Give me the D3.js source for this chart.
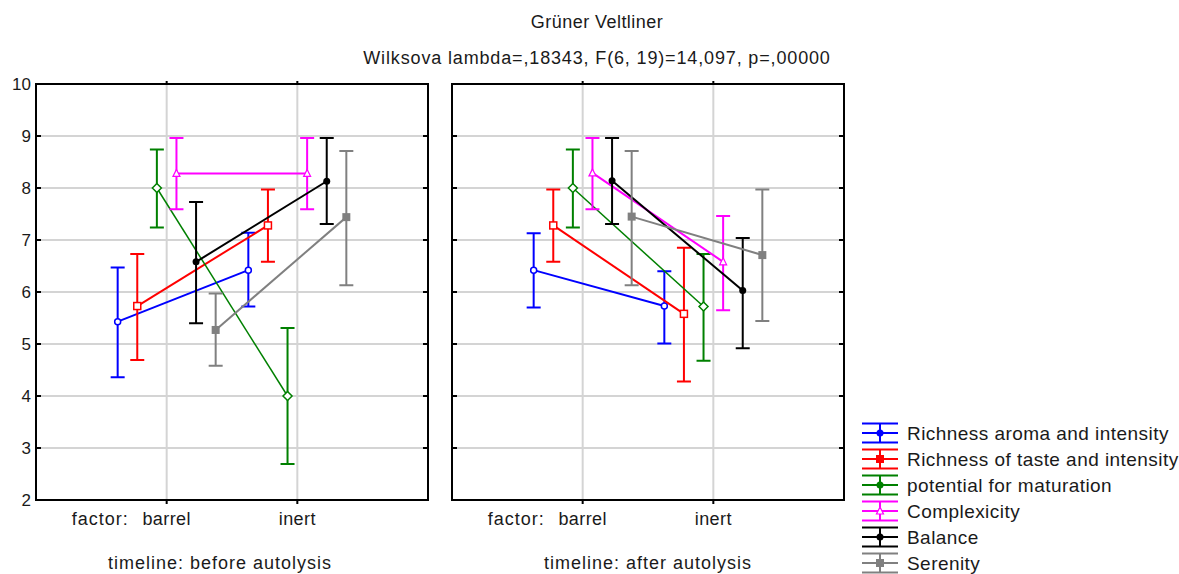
<!DOCTYPE html>
<html>
<head>
<meta charset="utf-8">
<script src="https://cdn.jsdelivr.net/npm/d3@7"></script>
<style>
  body { margin: 0; background: #fff; }
  svg { font-family: Arial, "Liberation Sans", sans-serif; }
</style>
</head>
<body>
<svg id="chart" width="1179" height="574"></svg>
<script>
const width = 1179;
const height = 574;

const categories = ["barrel", "inert"];
const timelines = ["before autolysis", "after autolysis"];
const seriesNames = [
    "Richness aroma and intensity",
    "Richness of taste and intensity",
    "potential for maturation",
    "Complexicity",
    "Balance",
    "Serenity"
];
const seriesColors = ["#0000ff", "#ff0000", "#008000", "#ff00ff", "#000000", "#808080"];
const seriesShapes = ["circle", "square", "diamond", "triangle", "dot", "filledSquare"];

// [barrel, inert] for each series
const meansBefore = [[5.43, 6.42], [5.73, 7.28], [8.0, 4.0], [8.28, 8.28], [6.58, 8.13], [5.27, 7.44]];
const lowerBefore = [[4.36, 5.72], [4.69, 6.58], [7.24, 2.69], [7.59, 7.59], [5.40, 7.31], [4.58, 6.13]];
const upperBefore = [[6.47, 7.14], [6.73, 7.97], [8.74, 5.31], [8.96, 8.96], [7.73, 8.96], [5.97, 8.71]];

const meansAfter = [[6.42, 5.73], [7.28, 5.58], [8.0, 5.72], [8.29, 6.58], [8.14, 6.03], [7.45, 6.71]];
const lowerAfter = [[5.70, 5.01], [6.58, 4.28], [7.24, 4.68], [7.59, 5.65], [7.31, 4.92], [6.13, 5.44]];
const upperAfter = [[7.13, 6.40], [7.97, 6.85], [8.74, 6.73], [8.96, 7.46], [8.96, 7.04], [8.71, 7.97]];

const yTicks = [2, 3, 4, 5, 6, 7, 8, 9, 10];

const panelData = [
    { timeline: timelines[0], means: meansBefore, lower: lowerBefore, upper: upperBefore, x0: 36, showY: true },
    { timeline: timelines[1], means: meansAfter, lower: lowerAfter, upper: upperAfter, x0: 452, showY: false }
];
const panelWidth = 392;
const plotTop = 84, plotBottom = 500;

const svg = d3.select("#chart");

const y = d3.scaleLinear().domain([2, 10]).range([plotBottom, plotTop]);
const offset = d3.scalePoint().domain(seriesNames).range([-49, 49]);

const textColor = "#1a1a1a";

svg.append("text")
    .attr("x", 597).attr("y", 28)
    .attr("text-anchor", "middle")
    .attr("font-size", 18).attr("fill", textColor)
    .attr("letter-spacing", 0.45)
    .text("Grüner Veltliner");

svg.append("text")
    .attr("x", 597).attr("y", 64)
    .attr("text-anchor", "middle")
    .attr("font-size", 18).attr("fill", textColor)
    .attr("letter-spacing", 0.85)
    .text("Wilksova lambda=,18343, F(6, 19)=14,097, p=,00000");

function drawMarker(g, shape, color) {
    if (shape === "circle") {
        g.append("circle").attr("r", 3).attr("fill", "#fff").attr("stroke", color).attr("stroke-width", 1.5);
    } else if (shape === "dot") {
        g.append("circle").attr("r", 3.5).attr("fill", color);
    } else if (shape === "square") {
        g.append("rect").attr("x", -3.5).attr("y", -3.5).attr("width", 7).attr("height", 7)
            .attr("fill", "#fff").attr("stroke", color).attr("stroke-width", 1.5);
    } else if (shape === "filledSquare") {
        g.append("rect").attr("x", -4).attr("y", -4).attr("width", 8).attr("height", 8).attr("fill", color);
    } else if (shape === "diamond") {
        g.append("path").attr("d", "M0,-4.5L4.5,0L0,4.5L-4.5,0Z")
            .attr("fill", "#fff").attr("stroke", color).attr("stroke-width", 1.5);
    } else if (shape === "triangle") {
        g.append("path").attr("d", "M0,-4L3.5,3L-3.5,3Z")
            .attr("fill", "#fff").attr("stroke", color).attr("stroke-width", 1.2);
    }
}

panelData.forEach(panel => {
    const x = d3.scalePoint().domain(categories).range([panel.x0, panel.x0 + panelWidth]).padding(1);
    const g = svg.append("g");

    // grid
    g.append("g").selectAll("line")
        .data(yTicks.slice(1, -1))
        .join("line")
        .attr("x1", panel.x0).attr("x2", panel.x0 + panelWidth)
        .attr("y1", d => y(d)).attr("y2", d => y(d))
        .attr("stroke", "#d4d4d4").attr("stroke-width", 2);

    g.append("g").selectAll("line")
        .data(categories)
        .join("line")
        .attr("x1", d => x(d)).attr("x2", d => x(d))
        .attr("y1", plotTop).attr("y2", plotBottom)
        .attr("stroke", "#d4d4d4").attr("stroke-width", 2);

    // ticks inside the frame on both sides
    g.append("g").selectAll("path")
        .data(yTicks)
        .join("path")
        .attr("d", d => `M${panel.x0},${y(d)}h5M${panel.x0 + panelWidth},${y(d)}h-5`)
        .attr("stroke", "#000").attr("stroke-width", 2);

    g.append("g").selectAll("path")
        .data(categories)
        .join("path")
        .attr("d", d => `M${x(d)},${plotBottom}v4M${x(d)},${plotTop}v-3`)
        .attr("stroke", "#000").attr("stroke-width", 2);

    // frame
    g.append("rect")
        .attr("x", panel.x0).attr("y", plotTop)
        .attr("width", panelWidth).attr("height", plotBottom - plotTop)
        .attr("fill", "none").attr("stroke", "#000").attr("stroke-width", 2);

    if (panel.showY) {
        g.append("g").selectAll("text")
            .data(yTicks)
            .join("text")
            .attr("x", 31).attr("y", d => y(d) + 6)
            .attr("text-anchor", "end")
            .attr("font-size", 17).attr("fill", textColor)
            .text(d => d);
    }

    // x labels
    g.append("g").selectAll("text")
        .data(categories)
        .join("text")
        .attr("x", d => x(d)).attr("y", 525)
        .attr("text-anchor", "middle")
        .attr("font-size", 18).attr("fill", textColor)
        .attr("letter-spacing", 0.4)
        .text(d => d);

    g.append("text")
        .attr("x", x(categories[0]) - 38).attr("y", 525)
        .attr("text-anchor", "end")
        .attr("font-size", 18).attr("fill", textColor)
        .attr("letter-spacing", 1)
        .text("factor:");

    g.append("text")
        .attr("x", panel.x0 + panelWidth / 2 - (panel.showY ? 12 : 0)).attr("y", 569)
        .attr("text-anchor", "middle")
        .attr("font-size", 18).attr("fill", textColor)
        .attr("letter-spacing", 1)
        .text("timeline:  " + panel.timeline);

    // series
    seriesNames.forEach((name, i) => {
        const color = seriesColors[i];
        const pts = categories.map((c, j) => ({
            x: x(c) + offset(name),
            mean: panel.means[i][j],
            lo: panel.lower[i][j],
            hi: panel.upper[i][j]
        }));
        const sg = g.append("g");

        sg.selectAll("path.err")
            .data(pts)
            .join("path")
            .attr("class", "err")
            .attr("d", d => `M${d.x},${y(d.lo)}V${y(d.hi)}M${d.x - 7},${y(d.lo)}h14M${d.x - 7},${y(d.hi)}h14`)
            .attr("fill", "none").attr("stroke", color).attr("stroke-width", 2);

        sg.append("path")
            .datum(pts)
            .attr("d", d3.line().x(d => d.x).y(d => y(d.mean)))
            .attr("fill", "none").attr("stroke", color)
            .attr("stroke-width", i === 2 ? 1.5 : 2);

        sg.selectAll("g.mark")
            .data(pts)
            .join("g")
            .attr("class", "mark")
            .attr("transform", d => `translate(${d.x},${y(d.mean)})`)
            .each(function () { drawMarker(d3.select(this), seriesShapes[i], color); });
    });
});

// legend
const legend = svg.append("g");
const legendY = d3.scalePoint().domain(seriesNames).range([433, 563]);
const legendShapes = ["dot", "filledSquare", "dot", "triangle", "dot", "filledSquare"];
seriesNames.forEach((name, i) => {
    const cy = legendY(name);
    const color = seriesColors[i];
    const lg = legend.append("g").attr("transform", `translate(880,${cy})`);
    lg.append("path")
        .attr("d", "M-18,-9.5h36M-18,0h36M-18,9.5h36M0,-9.5V9.5")
        .attr("stroke", color).attr("stroke-width", 2).attr("fill", "none");
    drawMarker(lg, legendShapes[i], color);
    legend.append("text")
        .attr("x", 907).attr("y", cy + 7)
        .attr("font-size", 19).attr("fill", textColor)
        .attr("letter-spacing", 0.45)
        .text(name);
});
</script>
</body>
</html>
